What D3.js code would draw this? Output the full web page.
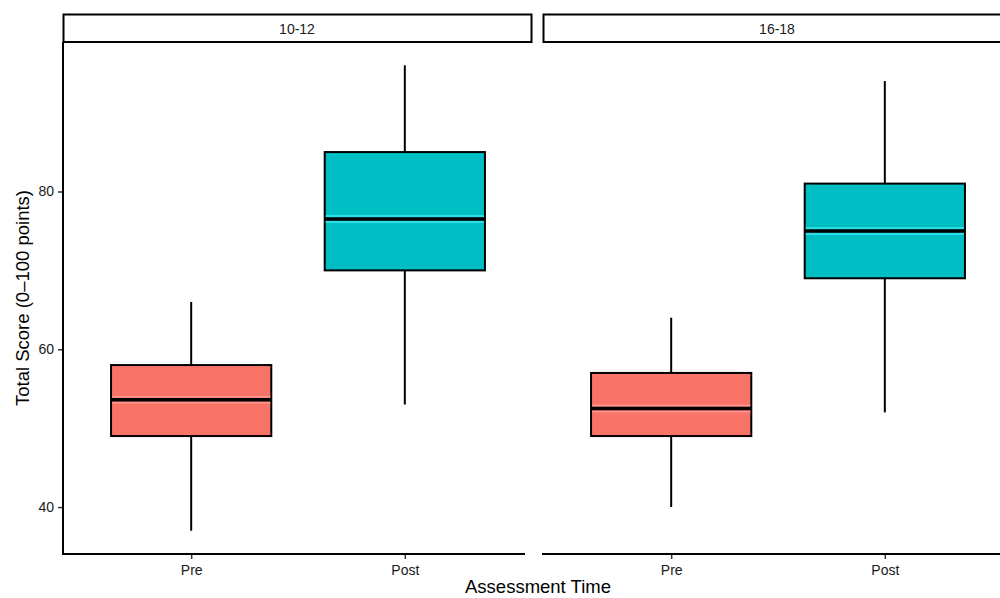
<!DOCTYPE html>
<html>
<head>
<meta charset="utf-8">
<script src="https://cdn.jsdelivr.net/npm/d3@7"></script>
<style>
  html, body { margin: 0; padding: 0; background: #fff; }
  svg { display: block; font-family: "Liberation Sans", Arial, sans-serif; }
</style>
</head>
<body>
<svg id="chart" width="1000" height="598"></svg>
<script>
// ---- data ----
const panels = ["10-12", "16-18"];
const times = ["Pre", "Post"];
const colors = ["#FA7369", "#00BFC4"];
// [whiskerLow, q1, median, q3, whiskerHigh] per panel, per time
const stats1012 = [[37, 49, 53.6, 58, 66], [53, 70, 76.5, 85, 96]];
const stats1618 = [[40, 49, 52.5, 57, 64], [52, 69, 75, 81, 94]];
const yTicks = [40, 60, 80];
const xTitle = "Assessment Time";
const yTitle = "Total Score (0\u2013100 points)";

const statsByPanel = [stats1012, stats1618];

(function () {
const svg = d3.select("#chart");

const panelX = [63, 543];
const panelW = 470;
const pTop = 42, pBottom = 554;

const y = d3.scaleLinear().domain([34.05, 98.95]).range([pBottom, pTop]);

panels.forEach((p, pi) => {
  const x0 = panelX[pi];
  const x = d3.scalePoint().domain(times).range([x0 + panelW * 0.6 / 2.2, x0 + panelW * 1.6 / 2.2]);
  const unit = panelW / 2.2;
  const bw = unit * 0.75;
  const g = svg.append("g");

  // strip
  g.append("rect")
    .attr("x", x0 + 0.5).attr("y", 14.5)
    .attr("width", panelW - 2).attr("height", 27.5)
    .attr("fill", "#fff").attr("stroke", "#000").attr("stroke-width", 2);
  g.append("text")
    .attr("x", x0 + (panelW - 2) / 2).attr("y", 34)
    .attr("text-anchor", "middle").attr("font-size", 14).attr("fill", "#1a1a1a")
    .text(p);

  const stats = statsByPanel[pi];
  times.forEach((t, ti) => {
    const s = stats[ti];
    const cx = x(t);
    g.append("line").attr("x1", cx).attr("x2", cx)
      .attr("y1", y(s[4])).attr("y2", y(s[3]))
      .attr("stroke", "#000").attr("stroke-width", 2);
    g.append("line").attr("x1", cx).attr("x2", cx)
      .attr("y1", y(s[1])).attr("y2", y(s[0]))
      .attr("stroke", "#000").attr("stroke-width", 2);
    g.append("rect")
      .attr("x", cx - bw / 2).attr("y", y(s[3]))
      .attr("width", bw).attr("height", y(s[1]) - y(s[3]))
      .attr("fill", colors[ti]).attr("stroke", "#000").attr("stroke-width", 2);
    const hl = ti === 0 ? "#FF9A92" : "#3FE8F0";
    g.append("line").attr("x1", cx - bw / 2 + 1).attr("x2", cx + bw / 2 - 1)
      .attr("y1", y(s[2]) - 3).attr("y2", y(s[2]) - 3)
      .attr("stroke", hl).attr("stroke-width", 1.5);
    g.append("line").attr("x1", cx - bw / 2 + 1).attr("x2", cx + bw / 2 - 1)
      .attr("y1", y(s[2]) + 3).attr("y2", y(s[2]) + 3)
      .attr("stroke", hl).attr("stroke-width", 1.5);
    g.append("line").attr("x1", cx - bw / 2).attr("x2", cx + bw / 2)
      .attr("y1", y(s[2])).attr("y2", y(s[2]))
      .attr("stroke", "#000").attr("stroke-width", 3.5);
  });

  const xa = g.append("g").attr("transform", `translate(0,${pBottom})`)
    .call(d3.axisBottom(x).tickSize(5).tickSizeOuter(0).tickPadding(6));
  xa.select(".domain").remove();
  xa.append("line").attr("x1", x0 - 1).attr("x2", x0 + panelW - 8)
    .attr("stroke", "#000").attr("stroke-width", 2);
  xa.selectAll(".tick line").attr("stroke", "#333").attr("stroke-width", 1.5);
  xa.selectAll(".tick text").attr("font-size", 14).attr("fill", "#1a1a1a")
    .attr("font-family", "Liberation Sans, Arial, sans-serif");

  if (pi === 0) {
    const ya = g.append("g").attr("transform", `translate(${x0},0)`)
      .call(d3.axisLeft(y).tickValues(yTicks).tickSize(5).tickSizeOuter(0).tickPadding(4));
    ya.select(".domain").remove();
    ya.append("line").attr("y1", pTop).attr("y2", pBottom + 1)
      .attr("stroke", "#000").attr("stroke-width", 2);
    ya.selectAll(".tick line").attr("stroke", "#333").attr("stroke-width", 1.5);
    ya.selectAll(".tick text").attr("font-size", 14).attr("fill", "#1a1a1a")
      .attr("font-family", "Liberation Sans, Arial, sans-serif");
  }
});

svg.append("text")
  .attr("x", 538).attr("y", 593)
  .attr("text-anchor", "middle").attr("font-size", 18.5).attr("fill", "#000")
  .text(xTitle);
svg.append("text")
  .attr("transform", `translate(29,${(pTop + pBottom) / 2}) rotate(-90)`)
  .attr("text-anchor", "middle").attr("font-size", 18.5).attr("fill", "#000")
  .text(yTitle);
})();
</script>
</body>
</html>
